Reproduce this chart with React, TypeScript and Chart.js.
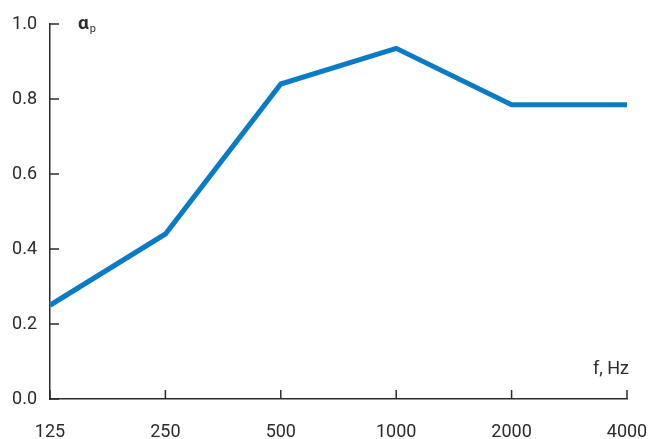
import React, { useEffect, useRef } from "react";
import { Chart, registerables } from "chart.js";

Chart.register(...registerables);

const categories = ["125", "250", "500", "1000", "2000", "4000"];
const absorption = [0.25, 0.44, 0.84, 0.935, 0.785, 0.785];
const yTicks = [0, 0.2, 0.4, 0.6, 0.8, 1.0];
const yAxisTitle = "α";
const yAxisSub = "p";
const xAxisTitle = "f, Hz";

const INK = "#2b2b2b";
const FONT = "Roboto, 'Noto Sans', sans-serif";

const innerTicks = {
  id: "innerTicks",
  afterDraw(chart: any) {
    const ctx = chart.ctx;
    const { left, bottom } = chart.chartArea;
    const x = chart.scales.x;
    const y = chart.scales.y;
    ctx.save();
    ctx.strokeStyle = INK;
    ctx.lineWidth = 1.5;
    ctx.beginPath();
    yTicks.forEach((v) => {
      const py = y.getPixelForValue(v);
      ctx.moveTo(left, py);
      ctx.lineTo(left + 9, py);
    });
    categories.forEach((_, i) => {
      const px = x.getPixelForValue(i);
      ctx.moveTo(px, bottom);
      ctx.lineTo(px, bottom - 9);
    });
    ctx.stroke();
    // axis titles
    ctx.fillStyle = INK;
    ctx.textBaseline = "alphabetic";
    ctx.font = `bold 19px ${FONT}`;
    ctx.textAlign = "left";
    ctx.fillText(yAxisTitle, 78, 29);
    const w = ctx.measureText(yAxisTitle).width;
    ctx.font = `11px ${FONT}`;
    ctx.fillText(yAxisSub, 78 + w + 1, 32);
    ctx.font = `18px ${FONT}`;
    ctx.textAlign = "right";
    ctx.fillText(xAxisTitle, 629, 374);
    ctx.restore();
  },
};

export default function App() {
  const ref = useRef<HTMLCanvasElement>(null);
  useEffect(() => {
    document.body.style.margin = "0";
    const chart = new Chart(ref.current!, {
      type: "line",
      data: {
        labels: categories,
        datasets: [
          {
            data: absorption,
            borderColor: "#0a7bc5",
            borderWidth: 5,
            pointRadius: 0,
            fill: false,
            tension: 0,
            borderJoinStyle: "miter",
          } as any,
        ],
      },
      options: {
        animation: false,
        responsive: false,
        maintainAspectRatio: false,
        layout: { padding: { left: 8, right: 22, top: 24, bottom: 0 } },
        plugins: { legend: { display: false }, tooltip: { enabled: false } },
        scales: {
          x: {
            type: "category",
            offset: false,
            grid: { display: false, drawTicks: false },
            border: { display: true, color: INK, width: 1.5 },
            ticks: { color: INK, font: { size: 18, family: FONT }, padding: 23, maxRotation: 0, autoSkip: false },
            afterFit: (s: any) => { s.height = 40; s.paddingLeft = 0; s.paddingRight = 0; },
          },
          y: {
            min: 0,
            max: 1,
            grid: { display: false, drawTicks: false },
            border: { display: true, color: INK, width: 1.5 },
            afterBuildTicks: (s: any) => { s.ticks = yTicks.map((v) => ({ value: v })); },
            ticks: {
              color: INK,
              font: { size: 18, family: FONT },
              padding: 13,
              callback: (v: any) => Number(v).toFixed(1),
            },
            afterFit: (s: any) => { s.width = 42; s.paddingTop = 0; s.paddingBottom = 0; },
          },
        },
      },
      plugins: [innerTicks],
    });
    return () => chart.destroy();
  }, []);
  return (
    <div style={{ width: 649, height: 439 }}>
      <canvas ref={ref} width={649} height={439} style={{ display: "block" }} />
    </div>
  );
}
